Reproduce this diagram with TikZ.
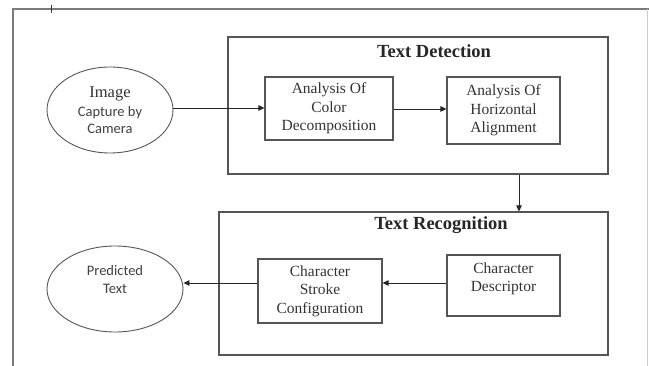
\documentclass[tikz,border=0pt]{standalone}
\usepackage{fontspec}
\setmainfont{Liberation Serif}
\newfontfamily\calfont{Carlito}
\usetikzlibrary{shapes.geometric,arrows.meta}
\definecolor{boxgray}{HTML}{555555}
\definecolor{framegray}{HTML}{7A7A7A}
\begin{document}
\begin{tikzpicture}[x=1pt,y=-1pt,
  boxline/.style={draw=boxgray,line width=1.1pt},
  boxtxt/.style={align=center,inner sep=0pt,
     font=\fontsize{15.5}{18.5}\selectfont,text=black!80},
  procbox/.style={boxline,rectangle,boxtxt},
  group/.style={boxline,rectangle,inner sep=0pt},
  oval/.style={draw=boxgray,line width=0.9pt,ellipse,inner sep=0pt},
  sanstxt/.style={align=center,font=\calfont\fontsize{14.5}{18}\selectfont,text=black!75},
  ttl/.style={font=\bfseries\fontsize{18.5}{22}\selectfont,text=black!85},
  arr/.style={-{Triangle[length=6pt,width=5.5pt]},line width=0.9pt,draw=black!85}]
\useasboundingbox (0,0) rectangle (649,366);
% outer page frame
\draw[framegray,line width=1.2pt] (13,366) -- (13,9) -- (649,9);
\draw[black!20,line width=0.8pt] (647,9) -- (647,366);
\draw[black!80,line width=0.8pt] (51,5) -- (51,13);
% groups
\node[group,minimum width=380pt,minimum height=137pt] (td) at (418,105.5) {};
\node[group,minimum width=389pt,minimum height=143pt] (tr) at (413.5,283.5) {};
\node[ttl] (tdt) at (434,51) {Text Detection};
\node[ttl] (trt) at (441,225) {Text Recognition};
% ellipses
\node[oval,minimum width=126pt,minimum height=86pt] (img) at (110,110) {};
\node[text=black!80,font=\fontsize{16.5}{18}\selectfont] (imgt) at (110,94) {Image};
\node[sanstxt,font=\calfont\fontsize{14.5}{17.5}\selectfont] (imgs) at (110,120) {Capture by\\Camera};
\node[oval,minimum width=136pt,minimum height=86pt] (pred) at (115,289) {};
\node[sanstxt] (predt) at (115,280) {Predicted\\Text};
% process boxes
\node[procbox,minimum width=128pt,minimum height=63pt] (cd) at (329,108.5) {Analysis Of\\Color\\Decomposition};
\node[procbox,minimum width=113pt,minimum height=67pt] (ha) at (503.5,110.5) {Analysis Of\\Horizontal\\Alignment};
\node[procbox,minimum width=124pt,minimum height=64pt] (csc) at (320,291) {Character\\Stroke\\Configuration};
\node[procbox,minimum width=113pt,minimum height=61pt] (desc) at (503.5,285.5) {};
\node[boxtxt] (desct) at (503.5,279) {Character\\Descriptor};
% connectors
\draw[arr] (img.east |- 0,108) -- (cd.west |- 0,108);
\draw[arr] (cd.east |- 0,109) -- (ha.west |- 0,109);
\draw[arr] (td.south -| 519,0) -- (tr.north -| 519,0);
\draw[arr] (desc.west |- 0,283) -- (csc.east |- 0,283);
\draw[arr] (csc.west |- 0,283) -- (pred.east |- 0,283);
\end{tikzpicture}
\end{document}
